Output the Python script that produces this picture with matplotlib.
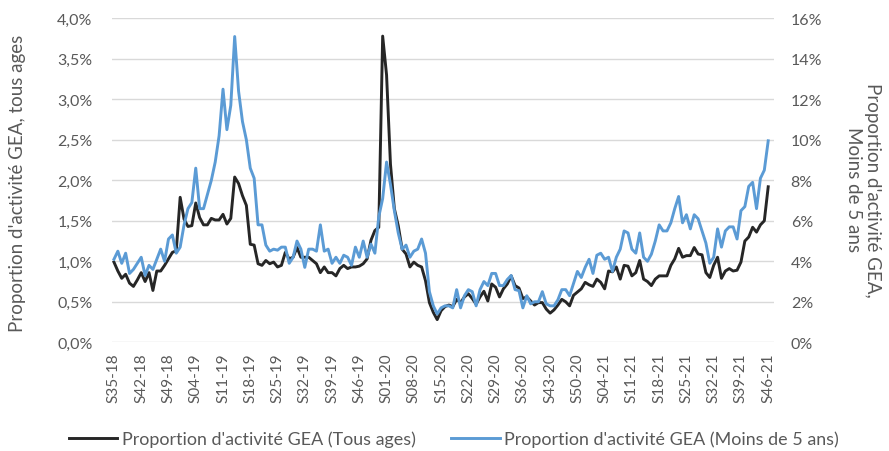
import matplotlib
matplotlib.use("Agg")
import matplotlib.pyplot as plt
from matplotlib.ticker import FuncFormatter, MultipleLocator

# ── Data: weekly GEA activity share (weeks S35-18 .. S46-21) ──
TOUS_AGES = [  # left axis, %
    0.99, 0.88, 0.79, 0.84, 0.73, 0.69, 0.77, 0.86, 0.75, 0.86,
    0.64, 0.88, 0.88, 0.95, 1.03, 1.11, 1.13, 1.79, 1.52, 1.43,
    1.44, 1.72, 1.54, 1.45, 1.45, 1.53, 1.51, 1.51, 1.58, 1.46,
    1.53, 2.04, 1.96, 1.81, 1.69, 1.21, 1.20, 0.97, 0.95, 1.01,
    0.97, 0.99, 0.93, 0.95, 1.11, 1.03, 1.05, 1.17, 1.05, 1.05,
    1.05, 1.01, 0.97, 0.86, 0.93, 0.86, 0.86, 0.82, 0.91, 0.95,
    0.91, 0.93, 0.93, 0.94, 0.97, 1.03, 1.26, 1.38, 1.42, 3.78,
    3.30, 2.20, 1.65, 1.44, 1.15, 1.09, 0.93, 0.99, 0.95, 0.93,
    0.76, 0.49, 0.37, 0.28, 0.39, 0.44, 0.46, 0.44, 0.53, 0.49,
    0.56, 0.60, 0.54, 0.47, 0.56, 0.63, 0.51, 0.72, 0.68, 0.56,
    0.66, 0.72, 0.82, 0.70, 0.67, 0.54, 0.56, 0.51, 0.46, 0.49,
    0.49, 0.41, 0.36, 0.40, 0.46, 0.53, 0.50, 0.45, 0.58, 0.62,
    0.66, 0.74, 0.71, 0.69, 0.78, 0.74, 0.66, 0.88, 0.87, 0.93,
    0.78, 0.95, 0.94, 0.82, 0.86, 1.01, 0.78, 0.75, 0.70, 0.78,
    0.82, 0.82, 0.82, 0.95, 1.03, 1.16, 1.05, 1.07, 1.07, 1.17,
    1.09, 1.08, 0.86, 0.80, 0.95, 1.05, 0.79, 0.88, 0.91, 0.88,
    0.89, 0.99, 1.25, 1.30, 1.42, 1.36, 1.45, 1.50, 1.92,
]

MOINS_5_ANS = [  # right axis, %
    4.1, 4.5, 3.9, 4.4, 3.4, 3.6, 3.9, 4.2, 3.3, 3.8,
    3.6, 4.1, 4.6, 4.0, 5.1, 5.3, 4.4, 4.7, 5.8, 6.6,
    6.9, 8.6, 6.6, 6.6, 7.3, 8.0, 8.9, 10.2, 12.5, 10.5,
    11.7, 15.1, 12.4, 10.9, 10.0, 8.6, 8.1, 5.8, 5.8, 4.8,
    4.5, 4.6, 4.55, 4.7, 4.7, 3.9, 4.2, 5.0, 4.6, 3.7,
    4.6, 4.6, 4.5, 5.8, 4.5, 4.6, 3.9, 4.2, 3.9, 4.3,
    4.2, 3.8, 4.7, 4.2, 5.0, 4.2, 4.85, 4.4, 6.2, 7.1,
    8.9, 7.8, 6.5, 5.4, 4.6, 4.8, 4.2, 4.5, 4.6, 5.1,
    4.4, 2.5, 1.8, 1.4, 1.7, 1.8, 1.8, 1.7, 2.6, 1.7,
    2.3, 2.6, 2.5, 1.8, 2.6, 3.0, 2.8, 3.4, 3.4, 2.8,
    2.8, 3.1, 3.3, 2.6, 2.55, 1.7, 2.3, 1.9, 2.0, 2.0,
    2.5, 1.9, 1.8, 1.8, 2.1, 2.6, 2.6, 2.3, 2.9, 3.5,
    3.2, 3.7, 4.1, 3.4, 4.3, 4.4, 4.1, 4.2, 3.5, 4.2,
    4.6, 5.5, 5.4, 4.6, 4.4, 5.4, 4.2, 4.0, 4.35, 5.0,
    5.8, 5.5, 5.5, 5.9, 6.6, 7.2, 5.9, 6.3, 5.6, 6.3,
    6.1, 5.5, 4.9, 3.9, 4.2, 5.6, 4.7, 5.5, 5.7, 5.7,
    5.1, 6.5, 6.7, 7.7, 7.9, 6.6, 8.1, 8.5, 9.95,
]

TICK_LABELS = [
    "S35-18", "S42-18", "S49-18", "S04-19", "S11-19", "S18-19", "S25-19",
    "S32-19", "S39-19", "S46-19", "S01-20", "S08-20", "S15-20", "S22-20",
    "S29-20", "S36-20", "S43-20", "S50-20", "S04-21", "S11-21", "S18-21",
    "S25-21", "S32-21", "S39-21", "S46-21",
]
TICK_STEP = 7
N_CATEGORIES = 170  # category axis runs one week past the last point

LABEL_TOUS = "Proportion d'activité GEA (Tous ages)"
LABEL_MOINS5 = "Proportion d'activité GEA (Moins de 5 ans)"

# ── Styling ──
COLORS = {
    "black": "#262626",
    "blue": "#5B9BD5",
    "grid": "#D9D9D9",
    "text": "#595959",
}
plt.rcParams["font.family"] = ["Lato", "DejaVu Sans"]

fig = plt.figure(figsize=(8.89, 4.52), dpi=100)
ax = fig.add_axes([0.1260, 0.2405, 0.7447, 0.7168])
ax2 = ax.twinx()

x = list(range(len(TOUS_AGES)))
ax.plot(x, TOUS_AGES, color=COLORS["black"], linewidth=2.1,
        solid_joinstyle="round", label=LABEL_TOUS)
ax2.plot(x, MOINS_5_ANS, color=COLORS["blue"], linewidth=2.1,
         solid_joinstyle="round", label=LABEL_MOINS5)

# ── Axes ──
ax.set_xlim(-0.5, N_CATEGORIES - 0.5)
ax.set_ylim(0, 4.0)
ax2.set_ylim(0, 16)
ax.yaxis.set_major_locator(MultipleLocator(0.5))
ax2.yaxis.set_major_locator(MultipleLocator(2))
ax.yaxis.set_major_formatter(FuncFormatter(lambda v, p: f"{v:.1f}%".replace(".", ",")))
ax2.yaxis.set_major_formatter(FuncFormatter(lambda v, p: f"{v:.0f}%"))

ax.set_xticks(range(0, TICK_STEP * len(TICK_LABELS), TICK_STEP))
ax.set_xticklabels(TICK_LABELS, rotation=90)

ax.grid(True, axis="y", color=COLORS["grid"], linewidth=1.0)
ax.set_axisbelow(True)
for a in (ax, ax2):
    for s in a.spines.values():
        s.set_visible(False)
ax.tick_params(axis="x", length=0, pad=7, labelsize=11, colors=COLORS["text"])
ax.tick_params(axis="y", length=0, pad=14, labelsize=11.5, colors=COLORS["text"])
ax2.tick_params(axis="y", length=0, pad=12, labelsize=11.5, colors=COLORS["text"])

fig.text(18 / 889, 1 - 183 / 452, "Proportion d'activité GEA, tous ages",
         rotation=90, ha="center", va="center", fontsize=13.5, color=COLORS["text"])
fig.text(863 / 889, 1 - 190 / 452, "Proportion d'activité GEA,\nMoins de 5 ans",
         rotation=270, ha="center", va="center", fontsize=13.5, color=COLORS["text"],
         multialignment="center", linespacing=1.15)

# ── Legend ──
h1, l1 = ax.get_legend_handles_labels()
h2, l2 = ax2.get_legend_handles_labels()
fig.legend(h1 + h2, l1 + l2, loc="center", bbox_to_anchor=(454 / 889, 1 - 440 / 452),
           ncol=2, frameon=False, fontsize=12.9, handlelength=2.7,
           handletextpad=0.25, columnspacing=2.0, labelcolor=COLORS["text"])

fig.savefig("out.png", dpi=100)
